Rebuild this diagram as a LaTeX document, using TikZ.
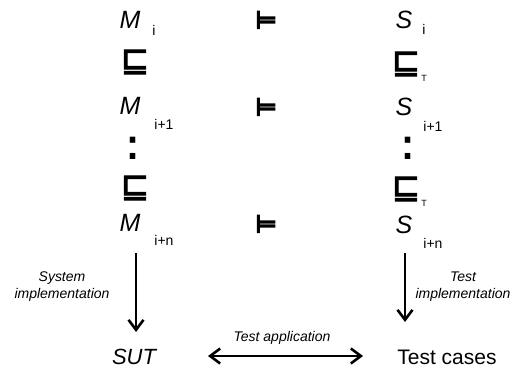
\documentclass[tikz,border=0pt]{standalone}
\usepackage{fontspec}
\setmainfont{Liberation Sans}
\newfontfamily\symb[FakeBold=3]{DejaVu Sans}
\newfontfamily\symbent[FakeBold=7]{DejaVu Sans}
\usetikzlibrary{arrows.meta}
\begin{document}
\begin{tikzpicture}[x=1pt,y=-1pt,
  mainlbl/.style={font=\fontsize{25}{25}\selectfont\itshape, inner sep=0pt},
  plainlbl/.style={font=\fontsize{21}{21}\selectfont, inner sep=0pt},
  sublbl/.style={font=\fontsize{14}{14}\selectfont, inner sep=0pt},
  tinylbl/.style={font=\fontsize{9}{9}\selectfont, inner sep=0pt},
  rel/.style={font=\symb\fontsize{34}{34}\selectfont, inner sep=0pt},
  ent/.style={font=\symbent\fontsize{24}{24}\selectfont, inner sep=0pt},
  dots/.style={font=\bfseries\fontsize{34}{34}\selectfont, inner sep=0pt},
  edgelbl/.style={font=\fontsize{14}{17}\selectfont\itshape, inner sep=0pt, align=center},
  tip/.tip={Straight Barb[length=10pt,width=15pt,line width=2.6pt]},
  arr/.style={line width=2pt, -tip},
  darr/.style={line width=2pt, tip-tip}
]
\useasboundingbox (0,0) rectangle (515,369);
% row 1
\node[mainlbl] (M1) at (130,20) {M};
\node[sublbl] (M1s) at (154,30) {i};
\node[ent] (E1) at (266,20) {⊨};
\node[mainlbl] (S1) at (404,20) {S};
\node[sublbl] (S1s) at (424,29) {i};
% row 2
\node[rel] (R1) at (135,62) {⊑};
\node[rel] (R2) at (406,64) {⊑};
\node[tinylbl] (R2s) at (424,78) {T};
% row 3
\node[mainlbl] (M2) at (130,106) {M};
\node[sublbl] (M2s) at (164,124) {i+1};
\node[ent] (E2) at (266,107) {⊨};
\node[mainlbl] (S2) at (404,107) {S};
\node[sublbl] (S2s) at (433,126) {i+1};
% dots
\node[dots] (D1) at (133,148) {\scalebox{1.15}[1.3]{:}};
\node[dots] (D2) at (408,148) {\scalebox{1.15}[1.3]{:}};
% row 4
\node[rel] (R3) at (135,188) {⊑};
\node[rel] (R4) at (406,189) {⊑};
\node[tinylbl] (R4s) at (424,203) {T};
% row 5
\node[mainlbl] (M3) at (130,223) {M};
\node[sublbl] (M3s) at (164,240) {i+n};
\node[ent] (E3) at (266,224) {⊨};
\node[mainlbl] (S3) at (404,225) {S};
\node[sublbl] (S3s) at (433,243) {i+n};
% bottom
\node[mainlbl, font=\fontsize{22}{22}\selectfont\itshape] (SUT) at (134,357) {SUT};
\node[plainlbl] (TC) at (447,357) {Test cases};
% arrows
\coordinate (a1s) at (136,253);
\coordinate (a1e) at (136,332);
\coordinate (a2s) at (405,253);
\coordinate (a2e) at (405,322);
\coordinate (a3s) at (208,356);
\coordinate (a3e) at (363,356);
\draw[arr] (a1s) -- (a1e);
\draw[arr] (a2s) -- (a2e);
\draw[darr] (a3s) -- (a3e);
\node[edgelbl] (L1) at (62,287) {System\\implementation};
\node[edgelbl] (L2) at (463,287) {Test\\implementation};
\node[edgelbl, anchor=base] (L3) at (282,341) {Test application};
\end{tikzpicture}
\end{document}
